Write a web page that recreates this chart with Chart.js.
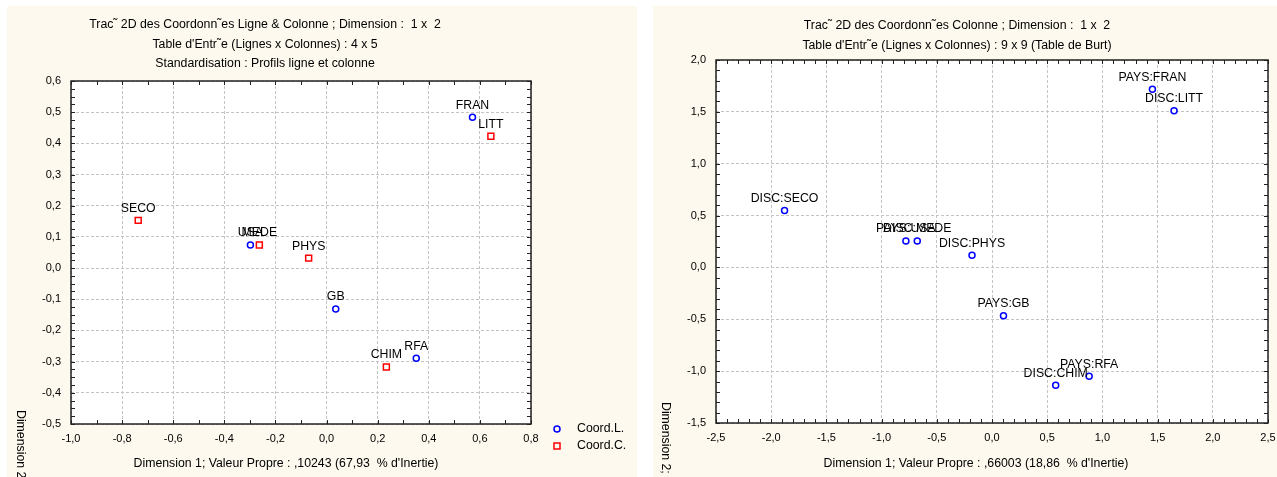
<!DOCTYPE html>
<html>
<head>
<meta charset="utf-8">
<script src="https://cdn.jsdelivr.net/npm/chart.js@4.4.0/dist/chart.umd.min.js"></script>
<style>
  body { margin:0; background:#fff; width:1277px; height:477px; overflow:hidden; position:relative; }
  .panel { position:absolute; background:#fdf9ee; }
  #p1 { left:7px; top:6px; width:630px; height:471px; }
  #p2 { left:653px; top:6px; width:624px; height:471px; }
  canvas { display:block; }
</style>
</head>
<body>
<div class="panel" id="p1"><canvas id="c1" width="630" height="471"></canvas></div>
<div class="panel" id="p2"><canvas id="c2" width="624" height="471"></canvas></div>
<script>
// --- left chart: lignes & colonnes
const rowNames = ["FRAN", "USA", "GB", "RFA"];
const rowX = [0.571, -0.298, 0.036, 0.351];
const rowY = [0.484, 0.074, -0.131, -0.289];
const colNames = ["LITT", "SECO", "MEDE", "PHYS", "CHIM"];
const colX = [0.643, -0.737, -0.263, -0.070, 0.234];
const colY = [0.423, 0.153, 0.074, 0.032, -0.317];

// --- right chart: table de Burt
const burtNames = ["PAYS:FRAN", "DISC:LITT", "DISC:SECO", "PAYS:USA", "DISC:MEDE", "DISC:PHYS", "PAYS:GB", "PAYS:RFA", "DISC:CHIM"];
const burtX = [1.453, 1.649, -1.879, -0.780, -0.677, -0.181, 0.104, 0.880, 0.577];
const burtY = [1.717, 1.510, 0.549, 0.255, 0.255, 0.117, -0.466, -1.049, -1.137];

const title1 = ["Trac\u02dc 2D des Coordonn\u02dces Ligne & Colonne ; Dimension :  1 x  2",
                "Table d'Entr\u02dce (Lignes x Colonnes) : 4 x 5",
                "Standardisation : Profils ligne et colonne"];
const title2 = ["Trac\u02dc 2D des Coordonn\u02dces Colonne ; Dimension :  1 x  2",
                "Table d'Entr\u02dce (Lignes x Colonnes) : 9 x 9 (Table de Burt)"];
const xTitle1 = "Dimension 1; Valeur Propre : ,10243 (67,93  % d'Inertie)";
const xTitle2 = "Dimension 1; Valeur Propre : ,66003 (18,86  % d'Inertie)";
const yTitle = "Dimension 2; Valeur Propre";
const legendNames = ["Coord.L.", "Coord.C."];

Chart.defaults.font.family = "'Liberation Sans', Arial, sans-serif";
Chart.defaults.font.size = 11;
Chart.defaults.color = "#000";
const textFont = "12.3px 'Liberation Sans', Arial, sans-serif";

const fmt = v => {
  let s = (Math.round(v * 10) / 10).toFixed(1).replace('.', ',');
  return s === "-0,0" ? "0,0" : s;
};

function pts(xs, ys) {
  return xs.map((x, i) => ({ x: x, y: ys[i] }));
}

// frame, minor ticks, point labels, titles
const decor = {
  id: 'decor',
  beforeDraw(chart) {
    const a = chart.chartArea, ctx = chart.ctx;
    ctx.save();
    ctx.fillStyle = '#fff';
    ctx.fillRect(a.left, a.top, a.right - a.left, a.bottom - a.top);
    ctx.restore();
  },
  afterDraw(chart, args, o) {
    const a = chart.chartArea, ctx = chart.ctx;
    const sx = chart.scales.x, sy = chart.scales.y;
    ctx.save();
    // ticks on all four sides
    ctx.strokeStyle = '#222';
    ctx.lineWidth = 1;
    ctx.beginPath();
    const nx = Math.round((sx.max - sx.min) / o.minorX);
    for (let i = 0; i <= nx; i++) {
      const px = Math.round(sx.getPixelForValue(sx.min + i * o.minorX)) + 0.5;
      ctx.moveTo(px, a.bottom); ctx.lineTo(px, a.bottom - 4);
      ctx.moveTo(px, a.top); ctx.lineTo(px, a.top + 4);
    }
    const ny = Math.round((sy.max - sy.min) / o.minorY);
    for (let i = 0; i <= ny; i++) {
      const py = Math.round(sy.getPixelForValue(sy.min + i * o.minorY)) + 0.5;
      ctx.moveTo(a.left, py); ctx.lineTo(a.left + 4, py);
      ctx.moveTo(a.right, py); ctx.lineTo(a.right - 4, py);
    }
    ctx.stroke();
    ctx.lineWidth = 1.5;
    ctx.strokeStyle = '#222';
    ctx.strokeRect(a.left, a.top, a.right - a.left, a.bottom - a.top);

    // point labels
    ctx.fillStyle = '#000';
    ctx.font = textFont;
    ctx.textAlign = 'center';
    ctx.textBaseline = 'middle';
    o.labels.forEach((names, d) => {
      chart.getDatasetMeta(d).data.forEach((el, i) => {
        ctx.fillText(names[i], el.x, el.y - 12);
      });
    });

    // titles
    o.title.forEach((t, i) => ctx.fillText(t, o.titleX, o.titleY + i * o.titleGap));
    ctx.fillText(o.xTitle, o.xTitleX, o.xTitleY);

    // y title (read top to bottom)
    ctx.save();
    ctx.translate(o.yTitleX, o.yTitleY);
    ctx.rotate(Math.PI / 2);
    ctx.textAlign = 'left';
    ctx.fillText(yTitle, 0, 0);
    ctx.restore();

    // legend
    if (o.legend) {
      const lx = o.legend.x, ly = o.legend.y;
      ctx.lineWidth = 1.5;
      ctx.strokeStyle = '#0000ff';
      ctx.beginPath(); ctx.arc(lx, ly, 3, 0, Math.PI * 2); ctx.stroke();
      ctx.strokeStyle = '#ff0000';
      ctx.strokeRect(lx - 3, ly + 17 - 3, 6, 6);
      ctx.textAlign = 'left';
      ctx.fillText(legendNames[0], lx + 20, ly);
      ctx.fillText(legendNames[1], lx + 20, ly + 17);
    }
    ctx.restore();
  }
};

function axis(min, max, step, fixed, isX) {
  return {
    type: 'linear',
    min: min, max: max,
    ticks: { stepSize: step, padding: isX ? 8 : 10, callback: v => fmt(v), autoSkip: false, maxRotation: 0 },
    grid: { color: '#c4c4c4', lineWidth: 1, drawTicks: false },
    border: { display: false, dash: [3, 2] },
    afterFit(s) {
      if (isX) { s.height = fixed; s.paddingLeft = 0; s.paddingRight = 0; }
      else { s.width = fixed; s.paddingTop = 0; s.paddingBottom = 0; }
    }
  };
}

const blue = { pointStyle: 'circle', pointRadius: 3, pointBorderWidth: 1.5, borderColor: '#0000ff', backgroundColor: '#fff', pointHoverRadius: 3 };
const red = { pointStyle: 'rect', pointRadius: 4.2, pointBorderWidth: 1.5, borderColor: '#ff0000', backgroundColor: '#fff', pointHoverRadius: 4.2 };

new Chart(document.getElementById('c1'), {
  type: 'scatter',
  data: {
    datasets: [
      Object.assign({ label: legendNames[0], data: pts(rowX, rowY) }, blue),
      Object.assign({ label: legendNames[1], data: pts(colX, colY) }, red)
    ]
  },
  options: {
    responsive: false, animation: false,
    layout: { padding: { left: 4, top: 75, right: 106, bottom: 0 } },
    scales: { x: axis(-1.0, 0.8, 0.2, 53, true), y: axis(-0.5, 0.6, 0.1, 60, false) },
    plugins: {
      legend: { display: false }, tooltip: { enabled: false },
      decor: {
        minorX: 0.1, minorY: 0.025,
        labels: [rowNames, colNames],
        title: title1, titleX: 258, titleY: 19, titleGap: 19.2,
        xTitle: xTitle1, xTitleX: 279, xTitleY: 458,
        yTitleX: 13, yTitleY: 404,
        legend: { x: 550, y: 423 }
      }
    }
  },
  plugins: [decor]
});

new Chart(document.getElementById('c2'), {
  type: 'scatter',
  data: {
    datasets: [
      Object.assign({ label: 'Coord.C.', data: pts(burtX, burtY) }, blue)
    ]
  },
  options: {
    responsive: false, animation: false,
    layout: { padding: { left: 3, top: 54, right: 9, bottom: 0 } },
    scales: { x: axis(-2.5, 2.5, 0.5, 54, true), y: axis(-1.5, 2.0, 0.5, 60, false) },
    plugins: {
      legend: { display: false }, tooltip: { enabled: false },
      decor: {
        minorX: 0.1, minorY: 0.1,
        labels: [burtNames],
        title: title2, titleX: 304, titleY: 20, titleGap: 19.3,
        xTitle: xTitle2, xTitleX: 323, xTitleY: 458,
        yTitleX: 12, yTitleY: 396,
        legend: null
      }
    }
  },
  plugins: [decor]
});
</script>
</body>
</html>
